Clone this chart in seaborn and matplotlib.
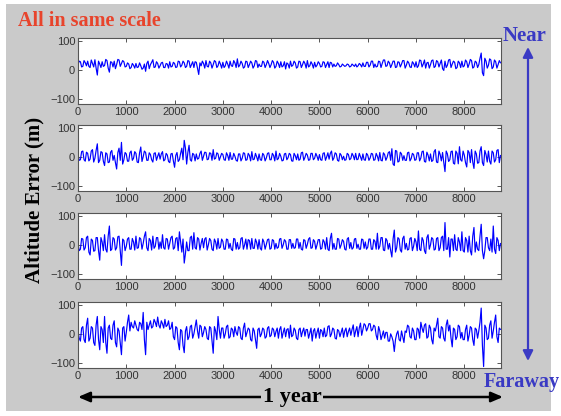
import numpy as np
import pandas as pd
import matplotlib
matplotlib.use("Agg")
import matplotlib.pyplot as plt
import seaborn as sns

sns.set_style("ticks")
plt.rcParams["font.family"] = ["Liberation Sans", "DejaVu Sans"]

# ---------------- data ----------------------------------------------------------
# values on the full 50 h grid and on the in-between 25 h offsets
hours_a = np.arange(0, 8760, 50)    # 0, 50, ..., 8750  (176)
hours_b = np.arange(25, 8750, 50)   # 25, 75, ..., 8725 (175)

near_a = [
    18, 28, 12, 25, 30, 8, 22, 35, -18, 20, 28, 15, 32, -8, 26, 30, 18, 34, 22, 28,
    12, 20, 8, 16, 22, 10, 14, 6, -5, 30, 18, 35, 10, 22, 14, 26, 8, 20, 28, 12,
    22, 10, 28, 16, 24, 12, 30, 18, 8, 26, -16, 14, 22, 32, 10, 24, 18, 28, 14, 20,
    26, 14, 20, 30, 12, 24, 38, 16, 22, 10, 28, 18, 24, 14, 30, 20, 12, 26, 18, 22,
    18, 26, 12, 22, 28, 14, 3, 20, 30, 16, 24, 10, 28, 18, 22, 32, 14, 20, 26, 16,
    22, 12, 26, 18, 8, 24, 20, 14, 18, 12, 16, 14, 18, 12, 16, 20, 14, 18, 24, 12,
    26, 16, 30, 20, 12, 28, 22, 34, 14, 24, 18, 30, 10, 26, 20, 32, 16, 24, 8, 22,
    28, 14, 32, 20, 6, 26, 18, 34, 12, 28, 22, 4, 30, 16, 36, 20, 26, 8, 24, 30,
    14, 28, 20, 32, 10, 26, 18, 58, -20, 30, 16, 34, 10, 28, 18, 24,
]
near_b = [
    30, 10, 32, 14, 12, 34, 10, 6, 30, 8, 12, 36, 6, 28, 10, 4, 36, 12, 32, 10,
    24, 4, 22, 6, 8, 24, 2, 20, 22, 4, 26, 8, 28, 6, 24, 8, 22, 6, 10, 26,
    8, 30, 10, 30, 8, 32, 8, 28, 28, 4, 24, 30, 6, 12, 30, 6, 32, 8, 30, 6,
    8, 30, 6, 14, 32, 8, 10, 30, 6, 30, 8, 30, 6, 32, 8, 12, 30, 8, 32, 8,
    32, 6, 30, 8, 10, 28, 24, 6, 12, 30, 6, 30, 8, 30, 6, 10, 28, 6, 10, 28,
    10, 28, 8, 28, 26, 10, 12, 24, 10, 20, 12, 20, 10, 20, 12, 10, 22, 10, 12, 26,
    10, 30, 8, 10, 30, 8, 34, 12, 30, 8, 30, 8, 28, 10, 32, 6, 30, 10, 28, 10,
    8, 34, 10, 34, 24, 6, 32, 8, 32, 10, 34, -2, 8, 34, 8, 30, 4, 30, 8, 10,
    34, 8, 36, 6, 30, 8, 40, -10, 40, 6, 38, 4, 34, 6, 32,
]

mid_near_a = [
    8, -10, 20, -15, 12, -8, 25, -5, 45, -12, 15, -30, 10, -18, 22, 5, -42, 30, 50, -10,
    10, -15, 20, -5, 12, -20, 34, 0, 15, -12, 8, -18, 14, 2, -8, 18, -10, 6, -20, 12,
    -36, 15, -10, 30, 57, -25, 40, -15, 8, 10, -5, 20, 2, 15, -8, 12, 25, -5, 10, 0,
    8, -12, 5, 15, -8, 2, -15, 10, -5, 12, -10, 5, 18, -8, 0, 10, -12, 6, -4, 14,
    -10, 5, 20, -6, 2, -12, 12, -3, 8, -15, 4, 10, -8, 16, -2, 6, -10, 12, -5, 2,
    8, -12, 14, 0, -8, 20, -4, 10, -15, 6, 2, -10, 8, -6, 4, 12, -8, 0, 10, -12,
    6, -4, 10, -10, 2, 15, -14, 8, -2, 18, 28, -30, 20, -15, 10, 4, -12, 16, -6, 8,
    -10, 14, -4, 20, -18, 6, 10, -12, 25, -20, 8, 15, -51, 10, -10, 20, -25, 12, 35, -15,
    6, -35, 15, 25, -40, 10, -20, 35, -30, 8, 20, -25, 14, -10, 25, 5,
]
mid_near_b = [
    -12, 18, -10, 16, -14, 20, -18, 22, -20, 18, -15, 14, -20, 16, -12, -20, 15, -12, -25, 15,
    -15, 14, -12, 18, -18, 14, -16, 20, -12, 14, -10, 12, -12, 14, 10, -14, 12, -16, 10, -14,
    5, -16, 12, -10, 30, 15, -10, 12, -14, -8, 12, -12, 16, -10, 14, -12, -8, 14, -12, 12,
    -10, 14, -12, -8, 12, -12, 10, -14, 14, -12, 12, -14, -10, 12, -14, -10, 12, -14, 12, -10,
    12, -14, -10, 12, -14, 10, -10, 12, -14, 12, -10, -12, 14, -12, 12, -12, 12, -10, 12, -12,
    -10, 12, -12, 14, 12, -12, 14, -12, 12, -10, -12, 12, -10, 12, -10, -10, 12, -12, -10, 12,
    -12, 12, -12, 12, -14, -12, 14, -12, 14, -12, -25, 22, -18, 16, -12, -12, 14, -14, 12, -12,
    14, -14, 18, -16, 16, -14, -16, 18, -18, 20, -14, -20, 20, -16, 18, -22, 20, -24, -10, 20,
    -20, 22, -20, -18, 20, -22, 20, -20, 22, -18, -15, 20, -18, 22, -20,
]

mid_far_a = [
    5, -15, 20, -10, 30, -35, 15, -20, 25, -53, 10, 35, -25, 65, -15, 20, -10, 30, -71, 15,
    -5, 25, -15, 10, 30, -10, 20, 5, 45, -20, 15, 30, -5, 25, 10, 35, -15, 20, 5, 30,
    -10, 25, 45, -25, -63, 10, -20, 30, 42, -15, 20, 5, -10, 25, 0, 15, -20, 10, 22, -8,
    12, -15, 18, 5, -20, 20, 8, -10, 25, 0, -15, 15, 22, -12, 8, 18, -18, 10, 2, 20,
    -12, 15, 5, -8, 22, 0, 12, -15, 18, 5, -10, 20, 8, -18, 15, 2, 25, -10, 12, 0,
    18, -12, 10, 25, -20, 40, 5, -15, 20, 0, 12, -18, 25, 8, -10, 22, 2, -15, 18, 10,
    -8, 20, -15, 12, 40, -5, 25, -20, 15, 5, -42, 51, -10, 20, -25, 30, 5, -15, 25, -5,
    10, 48, -20, 15, -30, 35, 0, 20, -15, 25, -10, 30, 77, -15, -42, 20, 35, -20, 10, 45,
    -25, 15, 30, -35, 60, 10, -20, 71, -48, 25, -10, 20, 65, -30, 15, 5,
]
mid_far_b = [
    -20, 22, -18, 25, -25, 20, -22, 25, -20, 25, -20, -15, 30, -20, 25, -18, 28, -20, 20, -20,
    20, -15, 22, -18, -12, 25, -15, 30, -10, 22, -18, -12, 25, -15, -12, -10, 22, -15, 25, -15,
    22, -20, 10, 20, -30, -20, 25, -15, -10, 25, -18, 22, 20, -18, 22, -15, 20, -15, -12, 20,
    -15, 20, -12, -15, 22, -15, -15, 22, -15, 20, 18, -15, -12, 20, -15, -12, 20, -15, 18, -15,
    18, -15, -12, 20, -12, 18, -15, 18, -12, -12, 20, -12, -15, 18, -12, 20, -12, 18, -15, 18,
    -15, 18, -15, -15, 22, -15, -15, 22, -12, 18, -15, 20, -12, -15, 20, -12, -15, 20, -12, -15,
    20, -15, 18, -15, -15, 25, -18, 22, -15, -20, 20, -25, 25, -18, 22, -15, -18, 22, -20, 22,
    -20, -15, 25, -20, 25, -15, 25, -18, 22, -20, 25, -20, -15, 25, 20, -20, -15, 25, -20, -20,
    25, -25, -20, 30, -25, -15, 30, -20, -20, 25, -20, -25, -15, 25, -20,
]

far_a = [
    10, -25, 25, -30, 54, -15, 20, -40, 60, -55, 15, 60, -67, 30, -20, 45, -45, 10, -72, 25,
    5, 65, 40, 20, 30, 10, 35, 74, -72, 15, 45, 25, 40, 58, 20, 35, 50, 30, 15, 40,
    -20, 20, -55, 10, -65, 25, -10, 30, 0, 48, -15, 25, 5, 15, -20, 20, -67, 10, 60, -15,
    20, 0, 30, -10, 15, 25, -5, 20, -20, 37, 5, 15, -25, 10, -50, 20, 0, 15, -10, 25,
    -5, 15, 8, -15, 25, 5, -10, 18, 30, -5, 12, -20, 20, 8, -8, 15, 2, -25, 18, 5,
    -15, 10, 20, -5, 28, 0, 15, -18, 10, 5, -12, 20, 8, -5, 31, 10, -10, 37, 15, 30,
    20, 35, 15, 25, -20, 10, -5, -15, 5, -25, -10, -61, 0, -20, 10, -30, 5, 25, -15, 10,
    -20, 15, 40, 5, 35, -10, 20, -35, 10, 54, -15, 20, -25, 48, 30, -45, 15, -10, 25, 5,
    -20, 30, -5, 20, -40, 15, 10, 89, -113, 20, -15, 45, 10, 65, -30, 15,
]
far_b = [
    -15, 20, -20, 30, -25, 25, -30, 30, -20, 25, -30, -30, 20, -15, 30, -30, 20, -30, 20, -25,
    40, 10, 25, 45, 15, 40, 15, -20, 40, 30, 20, 50, 25, 30, 45, 20, 25, 45, 20, -10,
    25, -30, 15, -40, 10, -20, 25, -15, 25, 10, 30, -10, 25, -15, 25, -25, 25, -20, 15, 20,
    -15, 25, -15, 20, -10, 5, 25, -15, 20, -10, 20, -20, 20, -20, 15, -10, 20, -15, 20, -10,
    20, -10, 20, 15, -15, 20, 15, -15, -10, 20, -15, 15, -10, 20, 15, -15, 20, 10, -15, 20,
    15, -10, -10, 25, -10, 20, -15, 15, -10, 20, 10, -10, 20, 15, -10, 25, 20, -5, 35, 10,
    35, 10, 30, -5, 25, -20, 10, 5, -25, 0, -25, -20, 10, -25, -10, 10, 30, -10, 20, -20,
    20, -15, 20, 30, -15, 30, -20, 20, 30, -10, 25, -15, 30, 10, -15, 20, -20, 30, -15, -20,
    15, -25, 25, -20, 20, -15, 40, -40, 30, -20, 30, -15, 40, -10, 20,
]

series = [(near_a, near_b), (mid_near_a, mid_near_b),
          (mid_far_a, mid_far_b), (far_a, far_b)]
xticks = [0, 1000, 2000, 3000, 4000, 5000, 6000, 7000, 8000]
yticks = [-100, 0, 100]

# ---------------- figure --------------------------------------------------------
W, H = 561, 416
fig = plt.figure(figsize=(W / 100, H / 100), dpi=100, facecolor="white")

def fx(px):
    return px / W

def fy(py):
    return 1 - py / H

backdrop = plt.Rectangle((fx(6), fy(411)), fx(551) - fx(6), fy(4) - fy(411),
                         transform=fig.transFigure, facecolor="#cacaca",
                         edgecolor="none", zorder=-10)
fig.patches.append(backdrop)

left_px, right_px = 78, 501
tops = [38, 125, 213, 302]
h_px = 66

for top, (va_, vb_) in zip(tops, series):
    ax = fig.add_axes([fx(left_px), fy(top + h_px), fx(right_px) - fx(left_px),
                       h_px / H])
    ax.set_zorder(1)
    df = pd.concat([pd.DataFrame({"hour": hours_a, "err": va_}),
                    pd.DataFrame({"hour": hours_b, "err": vb_})]).sort_values("hour")
    sns.lineplot(data=df, x="hour", y="err", ax=ax, color="#0000ff",
                 linewidth=0.85, sort=True)
    ax.set_xlim(0, 8760)
    ax.set_ylim(-118, 110)
    ax.set_xticks(xticks)
    ax.set_yticks(yticks)
    ax.set_xlabel("")
    ax.set_ylabel("")
    ax.set_facecolor("white")
    for s in ax.spines.values():
        s.set_visible(True)
        s.set_linewidth(0.8)
        s.set_color("#555555")
    ax.tick_params(direction="in", length=3, width=0.7, top=True, right=True,
                   labelsize=8, labelcolor="#333333", color="#555555", pad=2)

serif = ["Liberation Serif", "DejaVu Serif"]
blue = "#3a3ac4"

fig.text(fx(18), fy(26), "All in same scale", color="#e8442c", fontsize=14.5,
         fontweight="bold", family=serif, ha="left", va="baseline")

fig.text(fx(34), fy(200), "Altitude Error (m)", rotation=90, fontsize=15,
         fontweight="bold", family=serif, ha="center", va="center", color="black")

fig.text(fx(525), fy(36), "Near", color=blue, fontsize=15, fontweight="bold",
         family=serif, ha="center", va="center")
fig.text(fx(522), fy(382), "Faraway", color=blue, fontsize=14.5, fontweight="bold",
         family=serif, ha="center", va="center")

fig.add_artist(matplotlib.patches.FancyArrowPatch(
    (fx(528), fy(47)), (fx(528), fy(361)), transform=fig.transFigure,
    arrowstyle="<|-|>,head_length=6,head_width=3", color=blue, lw=1.6,
    shrinkA=0, shrinkB=0))

fig.add_artist(matplotlib.patches.FancyArrowPatch(
    (fx(78), fy(397)), (fx(503), fy(397)), transform=fig.transFigure,
    arrowstyle="<|-|>,head_length=7,head_width=3", color="black", lw=1.8,
    shrinkA=0, shrinkB=0))

fig.text(fx(292), fy(397), "1 year", color="black", fontsize=16, fontweight="bold",
         family=serif, ha="center", va="center",
         bbox=dict(facecolor="#cacaca", edgecolor="none", pad=1.5))

fig.savefig("out.png", dpi=100, facecolor="white")
